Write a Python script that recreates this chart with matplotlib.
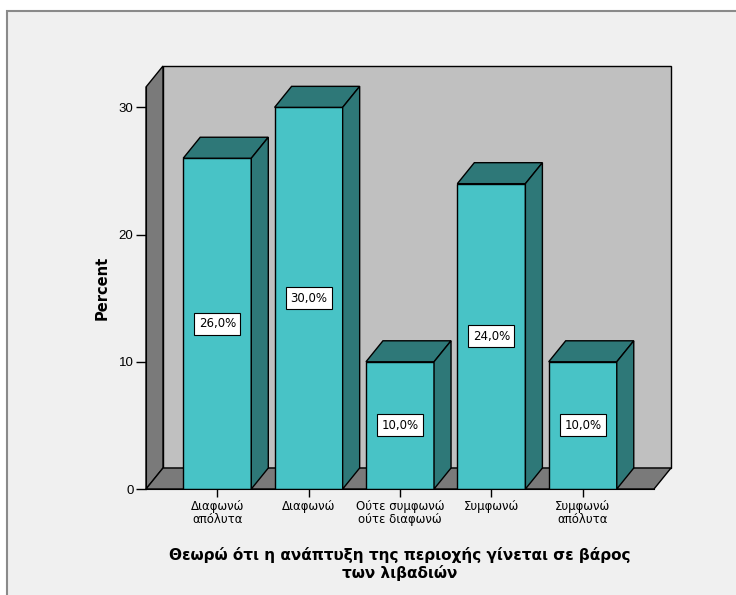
import matplotlib
matplotlib.use("Agg")
import matplotlib.pyplot as plt
from matplotlib.patches import Polygon, Rectangle

# ---- data ----
categories = ["Διαφωνώ\nαπόλυτα", "Διαφωνώ", "Ούτε συμφωνώ\nούτε διαφωνώ",
              "Συμφωνώ", "Συμφωνώ\nαπόλυτα"]
percents = [26.0, 30.0, 10.0, 24.0, 10.0]
yticks = [0, 10, 20, 30]
xlabel = "Θεωρώ ότι η ανάπτυξη της περιοχής γίνεται σε βάρος\nτων λιβαδιών"
ylabel = "Percent"

# ---- style ----
plt.rcParams['font.family'] = ['DejaVu Sans']
FRONT = "#48c3c6"
DARK = "#2e7878"
WALL = "#c0c0c0"
SIDE = "#7a7a7a"
BG = "#f0f0f0"

x_lo, x_hi = -0.78, 4.78   # front plane x extent
y_top = 31.6               # front plane top
DX, DY = 0.186, 1.65       # depth offset in data units
bw = 0.745

fig = plt.figure(figsize=(7.36, 5.95), dpi=100)
fig.patch.set_facecolor("white")
fig.patches.append(Rectangle((7/736, -0.1), 1.2, (595-11)/595 + 0.1,
                             transform=fig.transFigure, facecolor=BG,
                             edgecolor="#8a8a8a", lw=1.5, zorder=-10))

ax = fig.add_axes([146/736, (595-489)/595, 525/736, 423/595])
ax.set_facecolor("none")
ax.set_xlim(x_lo, x_hi + DX)
ax.set_ylim(0, y_top + DY)

lw = 1.0
# back wall
ax.add_patch(Polygon([(x_lo+DX, DY), (x_hi+DX, DY), (x_hi+DX, y_top+DY), (x_lo+DX, y_top+DY)],
                     closed=True, fc=WALL, ec="black", lw=lw, zorder=1, clip_on=False))
# left wall
ax.add_patch(Polygon([(x_lo, 0), (x_lo, y_top), (x_lo+DX, y_top+DY), (x_lo+DX, DY)],
                     closed=True, fc=SIDE, ec="black", lw=lw, zorder=1, clip_on=False))
# floor
ax.add_patch(Polygon([(x_lo, 0), (x_hi, 0), (x_hi+DX, DY), (x_lo+DX, DY)],
                     closed=True, fc=SIDE, ec="black", lw=lw, zorder=1, clip_on=False))

xs = list(range(len(categories)))
ax.bar(xs, percents, width=bw, color=FRONT, edgecolor="black", lw=lw, zorder=3)
for x, v in zip(xs, percents):
    l, r = x - bw/2, x + bw/2
    ax.add_patch(Polygon([(l, v), (r, v), (r+DX, v+DY), (l+DX, v+DY)],
                         closed=True, fc=DARK, ec="black", lw=lw, zorder=3))
    ax.add_patch(Polygon([(r, 0), (r, v), (r+DX, v+DY), (r+DX, DY)],
                         closed=True, fc=DARK, ec="black", lw=lw, zorder=3))
    ax.text(x, v/2, f"{v:.1f}".replace(".", ",") + "%", ha="center", va="center",
            fontsize=8.5, zorder=5,
            bbox=dict(boxstyle="square,pad=0.38", fc="white", ec="black", lw=0.8))

for s in ["top", "right"]:
    ax.spines[s].set_visible(False)
ax.spines["left"].set_bounds(0, y_top)
ax.spines["bottom"].set_bounds(x_lo, x_hi)
ax.spines["left"].set_zorder(4)
ax.spines["bottom"].set_zorder(4)

ax.set_yticks(yticks)
ax.set_yticklabels([str(t) for t in yticks], fontsize=9.5, family="Liberation Sans")
ax.set_xticks(xs)
ax.set_xticklabels(categories, fontsize=8.5, linespacing=0.95)
ax.tick_params(axis="y", length=7, width=1, pad=2)
ax.tick_params(axis="x", length=6, width=1, pad=2)

ax.set_ylabel(ylabel, fontsize=10.5, fontweight="bold")
ax.yaxis.set_label_coords(-0.069, 0.476)
ax.set_xlabel(xlabel, fontsize=11, fontweight="bold", linespacing=1.12)
ax.xaxis.set_label_coords(0.484, -0.138)

fig.savefig("out.png", dpi=100)
